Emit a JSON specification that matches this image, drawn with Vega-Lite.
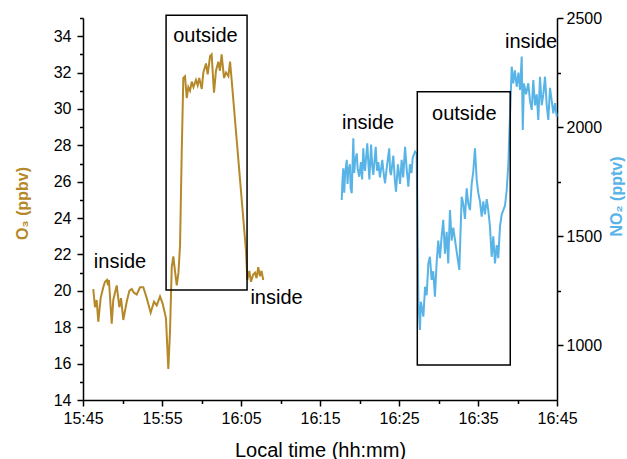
{
  "$schema": "https://vega.github.io/schema/vega-lite/v6.json",
  "width": 474,
  "height": 382,
  "autosize": {"type": "none"},
  "padding": {"left": 83, "top": 18, "right": 70, "bottom": 59},
  "background": "white",
  "config": {
    "view": {"stroke": null},
    "font": "Liberation Sans",
    "axis": {
      "grid": false,
      "domainColor": "black",
      "domainWidth": 1.5,
      "tickColor": "black",
      "tickWidth": 1.5,
      "labelColor": "black",
      "labelFont": "Liberation Sans",
      "labelFontSize": 16,
      "titleFont": "Liberation Sans"
    }
  },
  "layer": [
    {
      "resolve": {"scale": {"y": "shared"}, "axis": {"y": "independent", "x": "independent"}},
      "layer": [
        {
          "data": {
            "values": [
              {"t": "2020-01-01T15:46:18", "o3": 20.1},
              {"t": "2020-01-01T15:46:31", "o3": 19.1},
              {"t": "2020-01-01T15:46:44", "o3": 19.5},
              {"t": "2020-01-01T15:46:56", "o3": 18.3},
              {"t": "2020-01-01T15:47:14", "o3": 19.6},
              {"t": "2020-01-01T15:47:34", "o3": 20.2},
              {"t": "2020-01-01T15:47:47", "o3": 20.5},
              {"t": "2020-01-01T15:48:02", "o3": 20.6},
              {"t": "2020-01-01T15:48:10", "o3": 20.3},
              {"t": "2020-01-01T15:48:17", "o3": 20.6},
              {"t": "2020-01-01T15:48:38", "o3": 18.2},
              {"t": "2020-01-01T15:48:50", "o3": 19.5},
              {"t": "2020-01-01T15:49:16", "o3": 20.3},
              {"t": "2020-01-01T15:49:36", "o3": 19.1},
              {"t": "2020-01-01T15:49:49", "o3": 19.6},
              {"t": "2020-01-01T15:50:06", "o3": 18.4},
              {"t": "2020-01-01T15:50:32", "o3": 19.4},
              {"t": "2020-01-01T15:50:52", "o3": 20.0},
              {"t": "2020-01-01T15:51:10", "o3": 20.1},
              {"t": "2020-01-01T15:51:27", "o3": 19.9},
              {"t": "2020-01-01T15:51:48", "o3": 19.8},
              {"t": "2020-01-01T15:52:13", "o3": 20.2},
              {"t": "2020-01-01T15:52:38", "o3": 20.2},
              {"t": "2020-01-01T15:53:04", "o3": 19.6},
              {"t": "2020-01-01T15:53:34", "o3": 18.8},
              {"t": "2020-01-01T15:53:59", "o3": 19.4},
              {"t": "2020-01-01T15:54:20", "o3": 19.2},
              {"t": "2020-01-01T15:54:45", "o3": 19.7},
              {"t": "2020-01-01T15:55:05", "o3": 19.3},
              {"t": "2020-01-01T15:55:30", "o3": 18.5},
              {"t": "2020-01-01T15:55:48", "o3": 15.7},
              {"t": "2020-01-01T15:56:01", "o3": 17.8},
              {"t": "2020-01-01T15:56:14", "o3": 21.3},
              {"t": "2020-01-01T15:56:26", "o3": 21.9},
              {"t": "2020-01-01T15:56:40", "o3": 21.0},
              {"t": "2020-01-01T15:56:52", "o3": 20.3},
              {"t": "2020-01-01T15:57:05", "o3": 21.0},
              {"t": "2020-01-01T15:57:17", "o3": 22.5},
              {"t": "2020-01-01T15:57:30", "o3": 27.7},
              {"t": "2020-01-01T15:57:42", "o3": 31.7},
              {"t": "2020-01-01T15:57:55", "o3": 31.8},
              {"t": "2020-01-01T15:58:08", "o3": 30.6},
              {"t": "2020-01-01T15:58:20", "o3": 31.2},
              {"t": "2020-01-01T15:58:33", "o3": 31.0},
              {"t": "2020-01-01T15:58:46", "o3": 31.5},
              {"t": "2020-01-01T15:58:59", "o3": 31.2},
              {"t": "2020-01-01T15:59:18", "o3": 31.6},
              {"t": "2020-01-01T15:59:31", "o3": 31.3},
              {"t": "2020-01-01T15:59:43", "o3": 31.7},
              {"t": "2020-01-01T16:00:02", "o3": 31.1},
              {"t": "2020-01-01T16:00:14", "o3": 32.0},
              {"t": "2020-01-01T16:00:34", "o3": 32.5},
              {"t": "2020-01-01T16:00:47", "o3": 31.9},
              {"t": "2020-01-01T16:01:05", "o3": 32.9},
              {"t": "2020-01-01T16:01:17", "o3": 33.0},
              {"t": "2020-01-01T16:01:35", "o3": 30.9},
              {"t": "2020-01-01T16:01:50", "o3": 32.1},
              {"t": "2020-01-01T16:02:08", "o3": 32.6},
              {"t": "2020-01-01T16:02:20", "o3": 32.1},
              {"t": "2020-01-01T16:02:33", "o3": 33.0},
              {"t": "2020-01-01T16:02:51", "o3": 31.7},
              {"t": "2020-01-01T16:03:06", "o3": 32.0},
              {"t": "2020-01-01T16:03:24", "o3": 31.8},
              {"t": "2020-01-01T16:03:37", "o3": 32.6},
              {"t": "2020-01-01T16:03:49", "o3": 31.6},
              {"t": "2020-01-01T16:05:38", "o3": 22.2},
              {"t": "2020-01-01T16:05:48", "o3": 20.6},
              {"t": "2020-01-01T16:06:03", "o3": 21.1},
              {"t": "2020-01-01T16:06:16", "o3": 20.5},
              {"t": "2020-01-01T16:06:33", "o3": 20.9},
              {"t": "2020-01-01T16:06:46", "o3": 21.0},
              {"t": "2020-01-01T16:06:58", "o3": 20.7},
              {"t": "2020-01-01T16:07:11", "o3": 21.3},
              {"t": "2020-01-01T16:07:24", "o3": 20.8},
              {"t": "2020-01-01T16:07:36", "o3": 21.1},
              {"t": "2020-01-01T16:07:49", "o3": 20.6}
            ],
            "format": {"parse": {"t": "date"}}
          },
          "mark": {"type": "line", "color": "#b5892a", "strokeWidth": 2},
          "encoding": {
            "x": {
              "field": "t",
              "type": "temporal",
              "scale": {
                "domain": [
                  {"year": 2020, "month": 1, "date": 1, "hours": 15, "minutes": 45},
                  {"year": 2020, "month": 1, "date": 1, "hours": 16, "minutes": 45}
                ]
              },
              "axis": {
                "orient": "bottom",
                "values": [
                  {"year": 2020, "month": 1, "date": 1, "hours": 15, "minutes": 45},
                  {"year": 2020, "month": 1, "date": 1, "hours": 15, "minutes": 55},
                  {"year": 2020, "month": 1, "date": 1, "hours": 16, "minutes": 5},
                  {"year": 2020, "month": 1, "date": 1, "hours": 16, "minutes": 15},
                  {"year": 2020, "month": 1, "date": 1, "hours": 16, "minutes": 25},
                  {"year": 2020, "month": 1, "date": 1, "hours": 16, "minutes": 35},
                  {"year": 2020, "month": 1, "date": 1, "hours": 16, "minutes": 45}
                ],
                "format": "%H:%M",
                "labelFlush": false,
                "labelOverlap": false,
                "tickSize": 6,
                "labelPadding": 4,
                "title": "Local time (hh:mm)",
                "titleFontSize": 20,
                "titleFontWeight": "normal",
                "titleColor": "black",
                "titleBaseline": "alphabetic",
                "titleY": 56
              }
            },
            "y": {
              "field": "o3",
              "type": "quantitative",
              "scale": {"domain": [14, 35], "nice": false, "zero": false},
              "axis": {
                "orient": "left",
                "values": [14, 16, 18, 20, 22, 24, 26, 28, 30, 32, 34],
                "tickSize": 6,
                "labelPadding": 6,
                "title": "O₃ (ppbv)",
                "titleColor": "#b5892a",
                "titleFontSize": 16,
                "titleFontWeight": "bold",
                "titleAngle": -90,
                "titleAlign": "center",
                "titleBaseline": "alphabetic",
                "titleX": -56,
                "titleY": 185
              }
            }
          }
        },
        {
          "data": {
            "values": [
              {"x1": "2020-01-01T15:55:31", "x2": "2020-01-01T16:05:46", "y1": 20.05, "y2": 35.15}
            ],
            "format": {"parse": {"x1": "date", "x2": "date"}}
          },
          "mark": {"type": "rect", "filled": false, "stroke": "black", "strokeWidth": 1.5},
          "encoding": {
            "x": {"field": "x1", "type": "temporal", "axis": null},
            "x2": {"field": "x2"},
            "y": {
              "field": "y1",
              "type": "quantitative",
              "axis": {
                "orient": "left",
                "values": [15, 17, 19, 21, 23, 25, 27, 29, 31, 33, 35],
                "labels": false,
                "domain": false,
                "tickSize": 3.5,
                "title": null
              }
            },
            "y2": {"field": "y2"}
          }
        },
        {
          "data": {
            "values": [
              {"t": "2020-01-01T15:49:41", "v": 21.6, "label": "inside"},
              {"t": "2020-01-01T16:00:30", "v": 34.0, "label": "outside"},
              {"t": "2020-01-01T16:09:30", "v": 19.6, "label": "inside"}
            ],
            "format": {"parse": {"t": "date"}}
          },
          "mark": {"type": "text", "fontSize": 20, "font": "Liberation Sans", "color": "black", "align": "center", "baseline": "middle"},
          "encoding": {
            "x": {"field": "t", "type": "temporal", "axis": null},
            "y": {"field": "v", "type": "quantitative", "axis": null},
            "text": {"field": "label"}
          }
        }
      ]
    },
    {
      "resolve": {"scale": {"y": "shared"}, "axis": {"y": "independent", "x": "independent"}},
      "layer": [
        {
          "data": {
            "values": [
              {"t": "2020-01-01T16:17:45", "no2": 1666},
              {"t": "2020-01-01T16:17:51", "no2": 1760},
              {"t": "2020-01-01T16:17:57", "no2": 1811},
              {"t": "2020-01-01T16:18:04", "no2": 1700},
              {"t": "2020-01-01T16:18:10", "no2": 1780},
              {"t": "2020-01-01T16:18:23", "no2": 1850},
              {"t": "2020-01-01T16:18:29", "no2": 1740},
              {"t": "2020-01-01T16:18:35", "no2": 1800},
              {"t": "2020-01-01T16:18:47", "no2": 1830},
              {"t": "2020-01-01T16:18:53", "no2": 1720},
              {"t": "2020-01-01T16:19:01", "no2": 1697},
              {"t": "2020-01-01T16:19:13", "no2": 1949},
              {"t": "2020-01-01T16:19:20", "no2": 1790},
              {"t": "2020-01-01T16:19:26", "no2": 1840},
              {"t": "2020-01-01T16:19:39", "no2": 1880},
              {"t": "2020-01-01T16:19:46", "no2": 1810},
              {"t": "2020-01-01T16:19:58", "no2": 1773},
              {"t": "2020-01-01T16:20:11", "no2": 1840},
              {"t": "2020-01-01T16:20:20", "no2": 1760},
              {"t": "2020-01-01T16:20:29", "no2": 1903},
              {"t": "2020-01-01T16:20:36", "no2": 1820},
              {"t": "2020-01-01T16:20:42", "no2": 1800},
              {"t": "2020-01-01T16:20:59", "no2": 1926},
              {"t": "2020-01-01T16:21:07", "no2": 1840},
              {"t": "2020-01-01T16:21:15", "no2": 1760},
              {"t": "2020-01-01T16:21:28", "no2": 1920},
              {"t": "2020-01-01T16:21:37", "no2": 1820},
              {"t": "2020-01-01T16:21:45", "no2": 1781},
              {"t": "2020-01-01T16:22:03", "no2": 1910},
              {"t": "2020-01-01T16:22:13", "no2": 1800},
              {"t": "2020-01-01T16:22:23", "no2": 1840},
              {"t": "2020-01-01T16:22:35", "no2": 1770},
              {"t": "2020-01-01T16:22:53", "no2": 1850},
              {"t": "2020-01-01T16:23:03", "no2": 1790},
              {"t": "2020-01-01T16:23:14", "no2": 1743},
              {"t": "2020-01-01T16:23:26", "no2": 1810},
              {"t": "2020-01-01T16:23:46", "no2": 1903},
              {"t": "2020-01-01T16:23:52", "no2": 1800},
              {"t": "2020-01-01T16:23:59", "no2": 1780},
              {"t": "2020-01-01T16:24:17", "no2": 1870},
              {"t": "2020-01-01T16:24:28", "no2": 1760},
              {"t": "2020-01-01T16:24:37", "no2": 1704},
              {"t": "2020-01-01T16:24:52", "no2": 1830},
              {"t": "2020-01-01T16:25:08", "no2": 1740},
              {"t": "2020-01-01T16:25:20", "no2": 1850},
              {"t": "2020-01-01T16:25:32", "no2": 1770},
              {"t": "2020-01-01T16:25:46", "no2": 1910},
              {"t": "2020-01-01T16:25:58", "no2": 1810},
              {"t": "2020-01-01T16:26:11", "no2": 1727},
              {"t": "2020-01-01T16:26:23", "no2": 1830},
              {"t": "2020-01-01T16:26:35", "no2": 1790},
              {"t": "2020-01-01T16:26:44", "no2": 1860},
              {"t": "2020-01-01T16:27:02", "no2": 1888},
              {"t": "2020-01-01T16:27:14", "no2": 1880},
              {"t": "2020-01-01T16:27:27", "no2": 1208},
              {"t": "2020-01-01T16:27:32", "no2": 1150},
              {"t": "2020-01-01T16:27:39", "no2": 1071},
              {"t": "2020-01-01T16:27:46", "no2": 1200},
              {"t": "2020-01-01T16:27:52", "no2": 1180},
              {"t": "2020-01-01T16:28:05", "no2": 1132},
              {"t": "2020-01-01T16:28:18", "no2": 1269},
              {"t": "2020-01-01T16:28:30", "no2": 1230},
              {"t": "2020-01-01T16:28:43", "no2": 1376},
              {"t": "2020-01-01T16:28:55", "no2": 1406},
              {"t": "2020-01-01T16:29:08", "no2": 1300},
              {"t": "2020-01-01T16:29:20", "no2": 1340},
              {"t": "2020-01-01T16:29:33", "no2": 1223},
              {"t": "2020-01-01T16:29:46", "no2": 1380},
              {"t": "2020-01-01T16:29:58", "no2": 1480},
              {"t": "2020-01-01T16:30:11", "no2": 1400},
              {"t": "2020-01-01T16:30:24", "no2": 1500},
              {"t": "2020-01-01T16:30:36", "no2": 1575},
              {"t": "2020-01-01T16:30:49", "no2": 1420},
              {"t": "2020-01-01T16:31:02", "no2": 1520},
              {"t": "2020-01-01T16:31:14", "no2": 1376},
              {"t": "2020-01-01T16:31:27", "no2": 1620},
              {"t": "2020-01-01T16:31:40", "no2": 1480},
              {"t": "2020-01-01T16:31:52", "no2": 1540},
              {"t": "2020-01-01T16:32:38", "no2": 1346},
              {"t": "2020-01-01T16:32:56", "no2": 1681},
              {"t": "2020-01-01T16:33:08", "no2": 1650},
              {"t": "2020-01-01T16:33:21", "no2": 1580},
              {"t": "2020-01-01T16:33:34", "no2": 1720},
              {"t": "2020-01-01T16:33:46", "no2": 1650},
              {"t": "2020-01-01T16:33:59", "no2": 1620},
              {"t": "2020-01-01T16:34:12", "no2": 1740},
              {"t": "2020-01-01T16:34:24", "no2": 1796},
              {"t": "2020-01-01T16:34:37", "no2": 1903},
              {"t": "2020-01-01T16:34:50", "no2": 1760},
              {"t": "2020-01-01T16:35:02", "no2": 1700},
              {"t": "2020-01-01T16:35:15", "no2": 1660},
              {"t": "2020-01-01T16:35:28", "no2": 1590},
              {"t": "2020-01-01T16:35:40", "no2": 1660},
              {"t": "2020-01-01T16:35:53", "no2": 1600},
              {"t": "2020-01-01T16:36:06", "no2": 1670},
              {"t": "2020-01-01T16:36:18", "no2": 1620},
              {"t": "2020-01-01T16:36:31", "no2": 1544},
              {"t": "2020-01-01T16:36:44", "no2": 1406},
              {"t": "2020-01-01T16:36:56", "no2": 1500},
              {"t": "2020-01-01T16:37:09", "no2": 1376},
              {"t": "2020-01-01T16:37:22", "no2": 1460},
              {"t": "2020-01-01T16:37:34", "no2": 1400},
              {"t": "2020-01-01T16:37:47", "no2": 1544},
              {"t": "2020-01-01T16:38:00", "no2": 1600},
              {"t": "2020-01-01T16:38:12", "no2": 1620},
              {"t": "2020-01-01T16:38:25", "no2": 1640},
              {"t": "2020-01-01T16:38:38", "no2": 1712},
              {"t": "2020-01-01T16:38:50", "no2": 1827},
              {"t": "2020-01-01T16:39:16", "no2": 2277},
              {"t": "2020-01-01T16:39:28", "no2": 2200},
              {"t": "2020-01-01T16:39:40", "no2": 2260},
              {"t": "2020-01-01T16:39:54", "no2": 2185},
              {"t": "2020-01-01T16:40:07", "no2": 2250},
              {"t": "2020-01-01T16:40:19", "no2": 2170},
              {"t": "2020-01-01T16:40:32", "no2": 2323},
              {"t": "2020-01-01T16:40:40", "no2": 1987},
              {"t": "2020-01-01T16:40:49", "no2": 2200},
              {"t": "2020-01-01T16:41:05", "no2": 2150},
              {"t": "2020-01-01T16:41:22", "no2": 2201},
              {"t": "2020-01-01T16:41:35", "no2": 2120},
              {"t": "2020-01-01T16:41:48", "no2": 2079},
              {"t": "2020-01-01T16:42:00", "no2": 2216},
              {"t": "2020-01-01T16:42:13", "no2": 2100},
              {"t": "2020-01-01T16:42:26", "no2": 2150},
              {"t": "2020-01-01T16:42:38", "no2": 2033},
              {"t": "2020-01-01T16:42:51", "no2": 2231},
              {"t": "2020-01-01T16:43:04", "no2": 2100},
              {"t": "2020-01-01T16:43:16", "no2": 2150},
              {"t": "2020-01-01T16:43:29", "no2": 2231},
              {"t": "2020-01-01T16:43:42", "no2": 2100},
              {"t": "2020-01-01T16:43:54", "no2": 2033},
              {"t": "2020-01-01T16:44:07", "no2": 2180},
              {"t": "2020-01-01T16:44:20", "no2": 2120},
              {"t": "2020-01-01T16:44:32", "no2": 2063},
              {"t": "2020-01-01T16:44:45", "no2": 2110},
              {"t": "2020-01-01T16:44:58", "no2": 2048}
            ],
            "format": {"parse": {"t": "date"}}
          },
          "mark": {"type": "line", "color": "#58b3e6", "strokeWidth": 2},
          "encoding": {
            "x": {
              "field": "t",
              "type": "temporal",
              "axis": {
                "orient": "bottom",
                "values": [
                  {"year": 2020, "month": 1, "date": 1, "hours": 15, "minutes": 50},
                  {"year": 2020, "month": 1, "date": 1, "hours": 16, "minutes": 0},
                  {"year": 2020, "month": 1, "date": 1, "hours": 16, "minutes": 10},
                  {"year": 2020, "month": 1, "date": 1, "hours": 16, "minutes": 20},
                  {"year": 2020, "month": 1, "date": 1, "hours": 16, "minutes": 30},
                  {"year": 2020, "month": 1, "date": 1, "hours": 16, "minutes": 40}
                ],
                "labels": false,
                "domain": false,
                "tickSize": 3.5,
                "title": null
              }
            },
            "y": {
              "field": "no2",
              "type": "quantitative",
              "scale": {"domain": [750, 2500], "nice": false, "zero": false},
              "axis": {
                "orient": "right",
                "values": [1000, 1500, 2000, 2500],
                "format": "d",
                "tickSize": 6,
                "labelPadding": 3,
                "title": "NO₂ (pptv)",
                "titleColor": "#58b3e6",
                "titleFontSize": 16,
                "titleFontWeight": "bold",
                "titleAngle": -90,
                "titleAlign": "center",
                "titleBaseline": "alphabetic",
                "titleX": 64,
                "titleY": 178
              }
            }
          }
        },
        {
          "data": {
            "values": [
              {"x1": "2020-01-01T16:27:19", "x2": "2020-01-01T16:39:05", "y1": 910, "y2": 2162}
            ],
            "format": {"parse": {"x1": "date", "x2": "date"}}
          },
          "mark": {"type": "rect", "filled": false, "stroke": "black", "strokeWidth": 1.5},
          "encoding": {
            "x": {"field": "x1", "type": "temporal", "axis": null},
            "x2": {"field": "x2"},
            "y": {
              "field": "y1",
              "type": "quantitative",
              "axis": {
                "orient": "right",
                "values": [1250, 1750, 2250],
                "labels": false,
                "domain": false,
                "tickSize": 3.5,
                "title": null
              }
            },
            "y2": {"field": "y2"}
          }
        },
        {
          "data": {
            "values": [
              {"t": "2020-01-01T16:21:05", "v": 2019, "label": "inside"},
              {"t": "2020-01-01T16:33:16", "v": 2060, "label": "outside"},
              {"t": "2020-01-01T16:41:43", "v": 2389, "label": "inside"}
            ],
            "format": {"parse": {"t": "date"}}
          },
          "mark": {"type": "text", "fontSize": 20, "font": "Liberation Sans", "color": "black", "align": "center", "baseline": "middle"},
          "encoding": {
            "x": {"field": "t", "type": "temporal", "axis": null},
            "y": {"field": "v", "type": "quantitative", "axis": null},
            "text": {"field": "label"}
          }
        }
      ]
    }
  ],
  "resolve": {"scale": {"y": "independent"}, "axis": {"x": "independent"}}
}
